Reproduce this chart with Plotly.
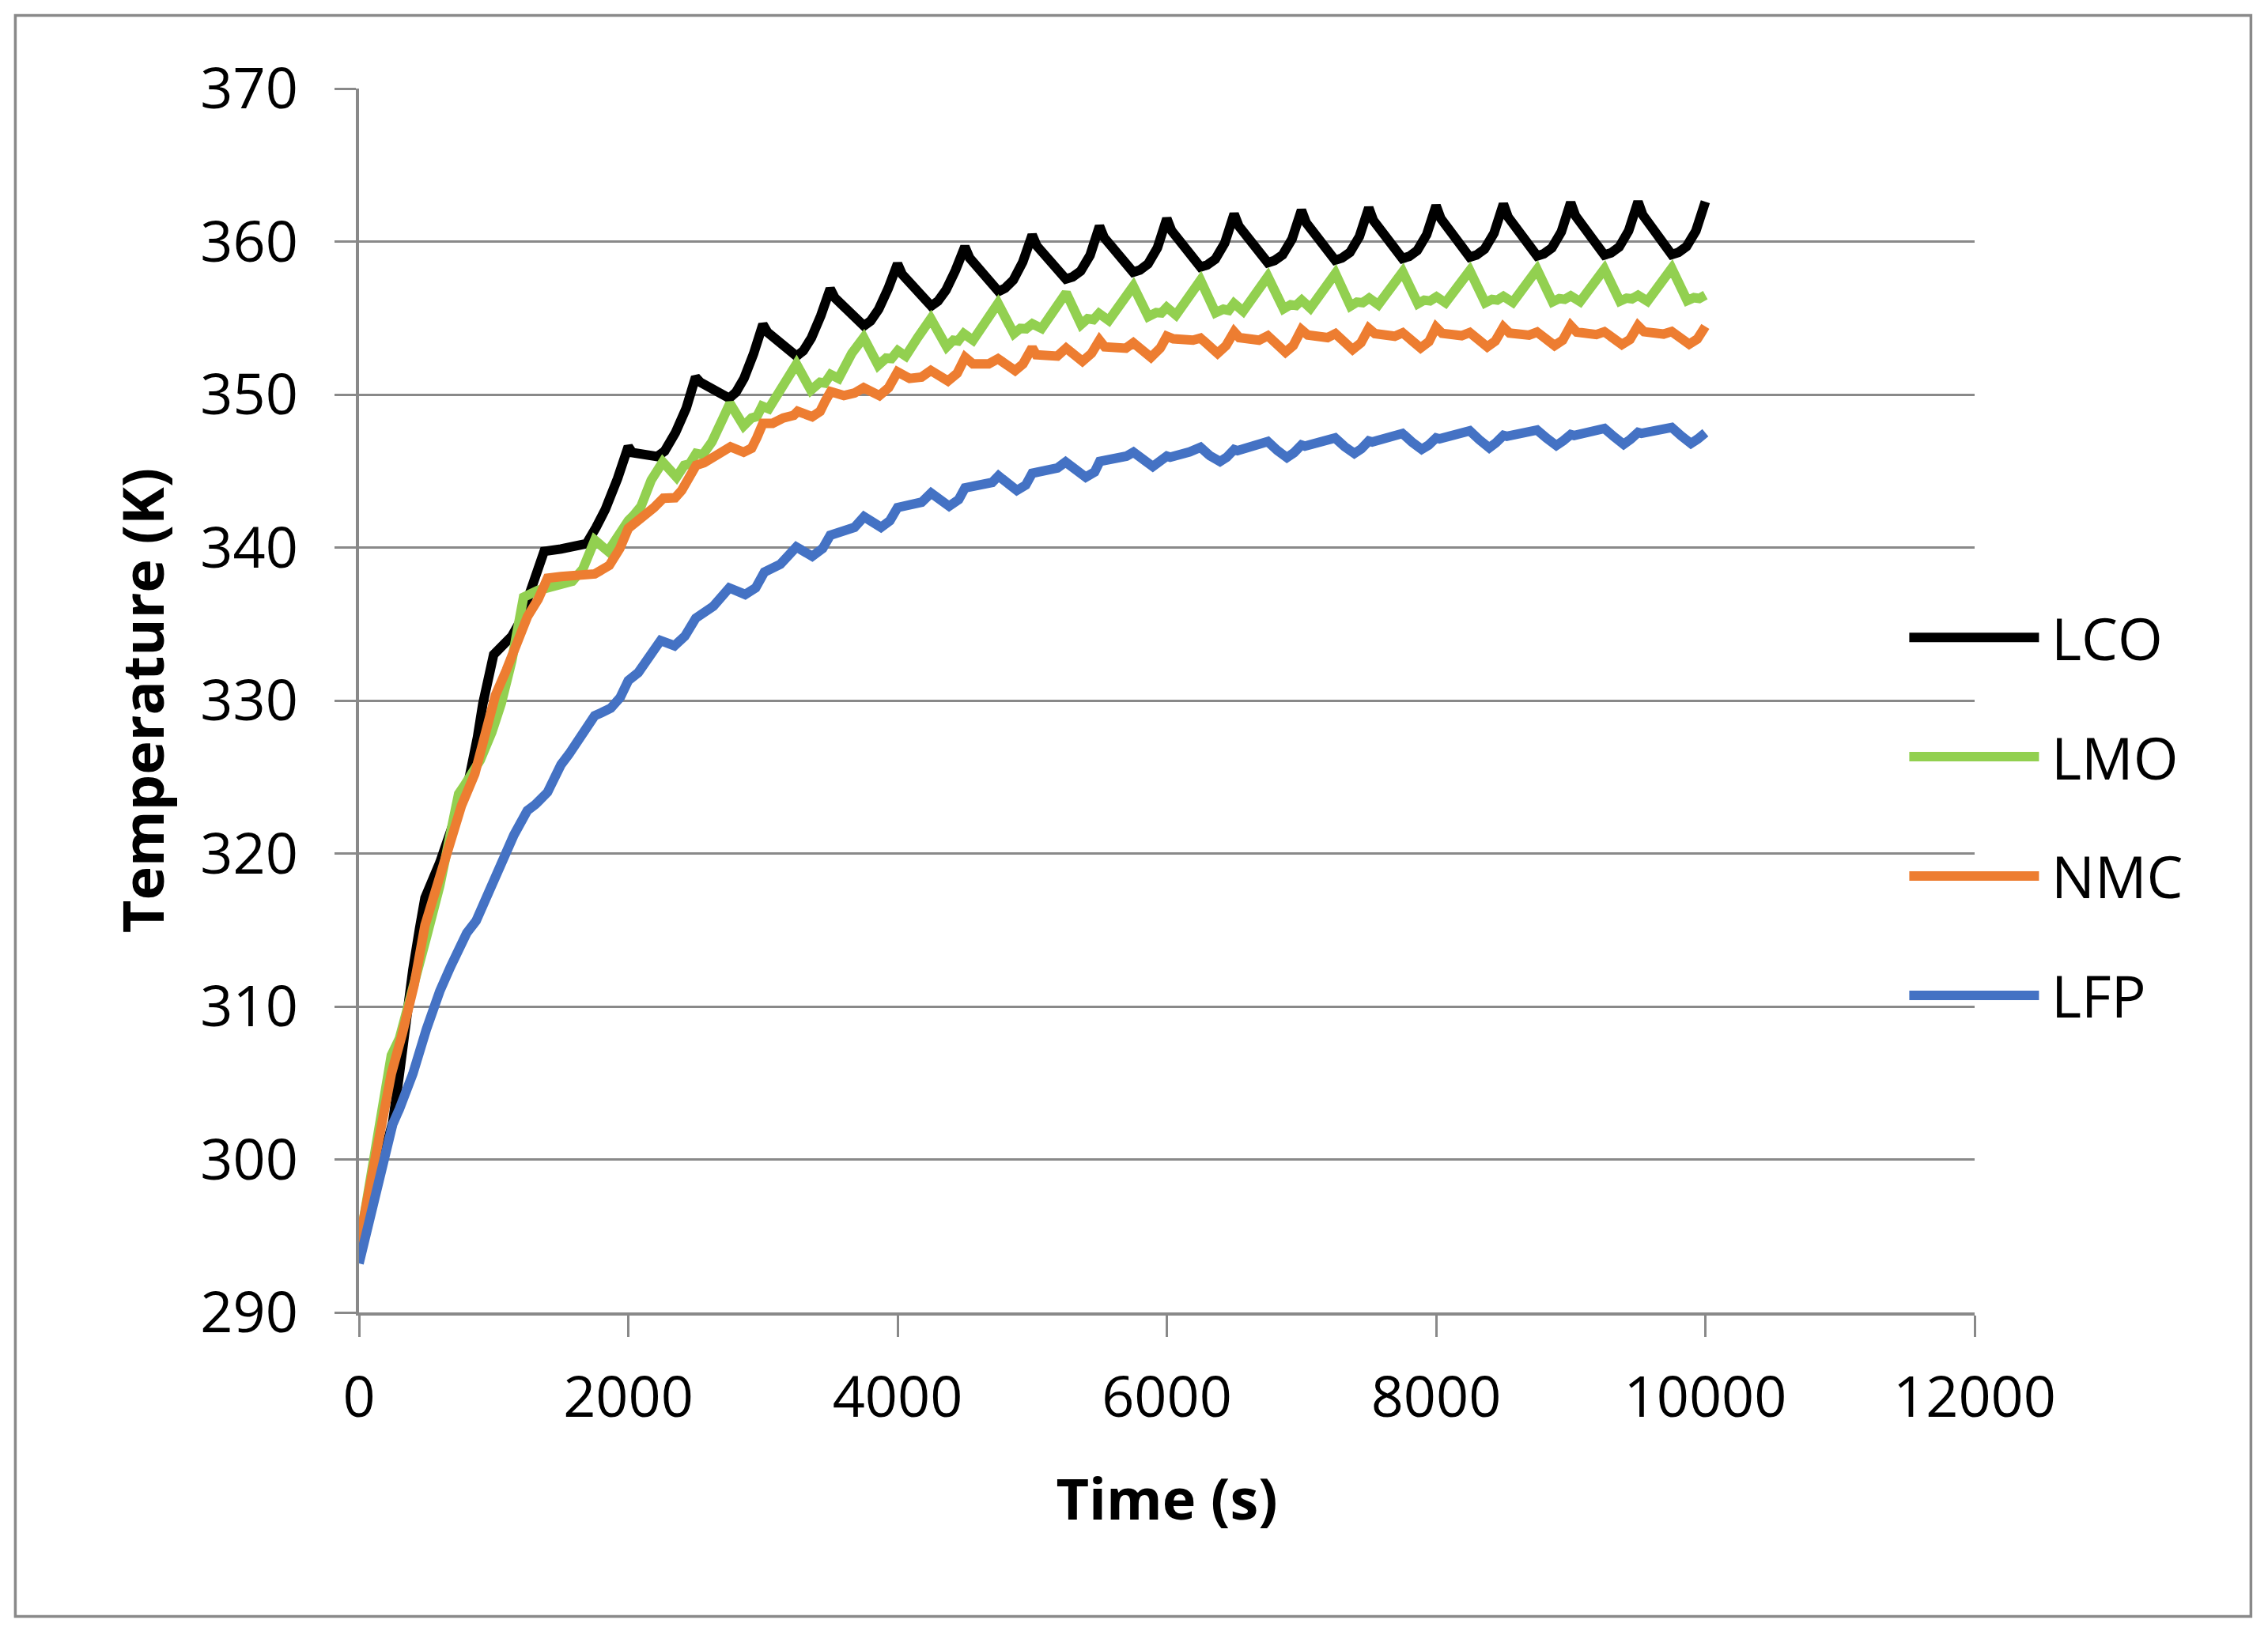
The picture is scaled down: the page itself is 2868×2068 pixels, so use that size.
import plotly.graph_objects as go

# ---------------- data ----------------
series_names = ["LCO", "LMO", "NMC", "LFP"]
series_colors = ["#000000", "#92D050", "#ED7D31", "#4472C4"]

lco_time = [0, 125, 250, 300, 350, 400, 450, 490, 600, 700, 780, 820, 880, 920, 1000,
            1020, 1135, 1195, 1270, 1330, 1375, 1500, 1600, 1690, 1760, 1830, 1920, 2000,
            2030, 2120, 2215, 2270, 2350, 2430, 2500,
            2535, 2640, 2725, 2750, 2800, 2860, 2930, 2970, 3000,
            3035, 3140, 3225, 3250, 3300, 3360, 3430, 3470, 3500,
            3535, 3640, 3725, 3750, 3800, 3860, 3930, 3970, 4000,
            4035, 4140, 4225, 4250, 4300, 4360, 4430, 4470, 4500,
            4535, 4640, 4725, 4750, 4800, 4860, 4930, 4970, 5000,
            5035, 5140, 5225, 5250, 5300, 5360, 5430, 5470, 5500,
            5535, 5640, 5725, 5750, 5800, 5860, 5930, 5970, 6000,
            6035, 6140, 6225, 6250, 6300, 6360, 6430, 6470, 6500,
            6535, 6640, 6725, 6750, 6800, 6860, 6930, 6970, 7000,
            7035, 7140, 7225, 7250, 7300, 7360, 7430, 7470, 7500,
            7535, 7640, 7725, 7750, 7800, 7860, 7930, 7970, 8000,
            8035, 8140, 8225, 8250, 8300, 8360, 8430, 8470, 8500,
            8535, 8640, 8725, 8750, 8800, 8860, 8930, 8970, 9000,
            9035, 9140, 9225, 9250, 9300, 9360, 9430, 9470, 9500,
            9535, 9640, 9725, 9750, 9800, 9860, 9930, 9970, 10000]
lco_temp = [294.3, 298.3, 302.4, 305.6, 309.4, 312.4, 315.1, 317.1, 319.4, 322.0, 324.0, 325.0, 327.6, 329.8, 333.0,
            333.15, 334.2, 335.15, 337.0, 338.5, 339.75, 339.9, 340.05, 340.25, 341.3, 342.5, 344.5, 346.6,
            346.2, 346.1, 345.95, 346.3, 347.5, 349.1, 351.14,
            350.80, 350.28, 349.82, 349.76, 350.15, 351.06, 352.65, 353.62, 354.58,
            354.06, 353.30, 352.59, 352.51, 352.86, 353.70, 355.15, 356.03, 356.91,
            356.31, 355.41, 354.59, 354.49, 354.81, 355.58, 356.92, 357.73, 358.54,
            357.85, 356.84, 355.90, 355.79, 356.10, 356.83, 358.11, 358.89, 359.66,
            358.93, 357.85, 356.86, 356.74, 356.96, 357.48, 358.66, 359.58, 360.43,
            359.71, 358.64, 357.67, 357.55, 357.69, 358.07, 359.10, 360.14, 361.0,
            360.25, 359.14, 358.12, 358.0, 358.14, 358.53, 359.58, 360.63, 361.5,
            360.71, 359.53, 358.46, 358.33, 358.47, 358.85, 359.89, 360.93, 361.8,
            361.01, 359.83, 358.75, 358.62, 358.76, 359.13, 360.16, 361.19, 362.05,
            361.23, 360.02, 358.91, 358.78, 358.92, 359.29, 360.32, 361.35, 362.2,
            361.37, 360.15, 359.02, 358.89, 359.03, 359.41, 360.45, 361.49, 362.35,
            361.51, 360.26, 359.11, 358.98, 359.12, 359.50, 360.54, 361.58, 362.45,
            361.60, 360.35, 359.20, 359.06, 359.20, 359.58, 360.63, 361.68, 362.55,
            361.69, 360.42, 359.26, 359.12, 359.26, 359.64, 360.69, 361.73, 362.6,
            361.74, 360.46, 359.29, 359.15, 359.29, 359.67, 360.70, 361.74, 362.6]

lmo_time = [0, 240, 300, 400, 500, 600, 650, 700, 740, 782, 840, 900, 987, 1056, 1134, 1183, 1222,
            1330, 1450, 1584, 1663, 1751, 1850, 1900, 1950, 2000, 2040, 2095, 2170, 2256,
            2358, 2416, 2455, 2504, 2553, 2622, 2700, 2755,
            2857, 2916, 2955, 2994, 3043, 3151, 3249,
            3356, 3424, 3460, 3503, 3562, 3660, 3748,
            3856, 3915, 3955, 4002, 4061, 4149, 4247,
            4365, 4414, 4450, 4492, 4561, 4659, 4746,
            4864, 4912, 4955, 5001, 5070, 5167, 5252,
            5363, 5412, 5455, 5496, 5569, 5657, 5751,
            5862, 5921, 5960, 5999, 6068, 6166, 6250,
            6362, 6420, 6460, 6499, 6567, 6655, 6750,
            6867, 6920, 6960, 7002, 7066, 7164, 7252,
            7364, 7412, 7455, 7503, 7571, 7664, 7752,
            7865, 7912, 7955, 8003, 8070, 8165, 8250,
            8365, 8415, 8455, 8500, 8570, 8665, 8750,
            8865, 8915, 8955, 9000, 9070, 9165, 9250,
            9365, 9415, 9455, 9500, 9570, 9665, 9750,
            9865, 9915, 9955, 10000]
lmo_temp = [294.3, 306.8, 307.9, 311.0, 314.5, 317.9, 320.0, 322.6, 323.9, 324.44, 325.17, 326.1, 327.94, 329.8, 332.56, 334.6, 336.75,
            337.2, 337.5, 337.8, 338.6, 340.48, 339.75, 340.45, 341.0, 341.75, 342.1, 342.7, 344.4, 345.59,
            344.6, 345.37, 345.46, 346.15, 346.06, 346.92, 348.38, 349.42,
            347.95, 348.47, 348.56, 349.24, 349.07, 350.62, 352.0,
            350.28, 350.8, 350.75, 351.31, 351.05, 352.69, 353.72,
            351.91, 352.38, 352.35, 352.86, 352.51, 353.72, 354.96,
            353.12, 353.55, 353.5, 353.98, 353.55, 354.75, 355.96,
            353.98, 354.32, 354.3, 354.62, 354.32, 355.44, 356.65,
            354.58, 354.96, 354.9, 355.30, 354.84, 355.96, 357.08,
            355.1, 355.36, 355.33, 355.70, 355.19, 356.48, 357.47,
            355.35, 355.58, 355.5, 355.96, 355.44, 356.56, 357.71,
            355.6, 355.87, 355.82, 356.17, 355.65, 356.82, 357.92,
            355.78, 356.04, 356.0, 356.30, 355.87, 356.91, 358.02,
            355.94, 356.17, 356.12, 356.39, 356.0, 357.0, 358.1,
            356.0, 356.22, 356.17, 356.42, 356.03, 357.05, 358.17,
            356.06, 356.27, 356.22, 356.45, 356.07, 357.1, 358.2,
            356.1, 356.3, 356.25, 356.48, 356.1, 357.13, 358.25,
            356.14, 356.33, 356.28, 356.5]

nmc_time = [0, 240, 321, 410, 490, 600, 700, 760, 860, 940, 990, 1013, 1095, 1173, 1252, 1330, 1400,
            1500, 1620, 1751, 1859, 1937, 2000, 2113, 2191, 2260, 2348, 2397, 2456, 2504,
            2563, 2661, 2759, 2857, 2916, 2955, 3000,
            3072, 3151, 3229, 3258, 3366, 3425, 3464, 3503,
            3601, 3680, 3748, 3865, 3934, 4000,
            4090, 4178, 4247, 4374, 4443, 4502,
            4560, 4677, 4746, 4873, 4932, 5000,
            5030, 5187, 5252, 5373, 5441, 5500,
            5539, 5696, 5751, 5882, 5951, 6000,
            6048, 6195, 6250, 6377, 6440, 6500,
            6538, 6685, 6750, 6881, 6939, 7000,
            7047, 7194, 7252, 7380, 7442, 7500,
            7546, 7693, 7752, 7885, 7947, 8000,
            8045, 8190, 8250, 8380, 8440, 8500,
            8545, 8690, 8750, 8880, 8940, 9000,
            9045, 9190, 9250, 9380, 9440, 9500,
            9545, 9690, 9750, 9880, 9940, 10000]
nmc_temp = [294.5, 305.6, 308.2, 311.43, 315.3, 318.5, 321.6, 323.1, 325.2, 327.9, 329.9, 330.34, 332.0, 333.85, 335.5, 336.61, 338.0,
            338.1, 338.15, 338.27, 338.83, 339.93, 341.25, 342.01, 342.61, 343.22, 343.25, 343.73, 344.6, 345.37,
            345.54, 346.06, 346.58, 346.23, 346.49, 347.18, 348.12,
            348.12, 348.47, 348.64, 348.90, 348.55, 348.90, 349.59, 350.19,
            349.93, 350.10, 350.45, 349.93, 350.45, 351.48,
            351.05, 351.14, 351.57, 350.88, 351.39, 352.43,
            352.0, 352.0, 352.34, 351.57, 352.0, 353.07,
            352.6, 352.51, 353.03, 352.17, 352.69, 353.55,
            353.12, 353.03, 353.38, 352.43, 353.03, 353.81,
            353.64, 353.55, 353.69, 352.69, 353.20, 354.10,
            353.72, 353.55, 353.84, 352.77, 353.20, 354.24,
            353.89, 353.72, 353.98, 352.94, 353.38, 354.32,
            353.98, 353.81, 354.03, 353.05, 353.46, 354.4,
            354.0, 353.85, 354.05, 353.12, 353.5, 354.41,
            354.02, 353.88, 354.08, 353.2, 353.55, 354.5,
            354.08, 353.92, 354.1, 353.27, 353.6, 354.5,
            354.1, 353.95, 354.12, 353.29, 353.62, 354.45]

lfp_time = [0, 250, 300, 400, 500, 530, 600, 680, 750, 800, 870, 930, 1000,
            1050, 1150, 1250, 1310, 1400, 1500, 1560, 1650, 1750, 1800, 1870, 1940, 2000,
            2074, 2152, 2240, 2343, 2420, 2501,
            2632, 2750, 2868, 2946, 3011,
            3130, 3248, 3366, 3444, 3500,
            3680, 3751, 3877, 3943, 4000,
            4179, 4249, 4383, 4454, 4501,
            4703, 4750, 4886, 4952, 5000,
            5188, 5248, 5398, 5464, 5502,
            5700, 5752, 5896, 6000,
            6025, 6170, 6250, 6320, 6395, 6445, 6500,
            6525, 6670, 6750, 6820, 6892, 6945, 7000,
            7025, 7170, 7250, 7320, 7393, 7445, 7500,
            7525, 7670, 7750, 7820, 7893, 7945, 8000,
            8025, 8170, 8250, 8320, 8395, 8445, 8500,
            8525, 8670, 8750, 8820, 8893, 8945, 9000,
            9025, 9170, 9250, 9320, 9393, 9445, 9500,
            9525, 9670, 9750, 9820, 9893, 9945, 10000]
lfp_temp = [293.2, 302.3, 303.3, 305.6, 308.5, 309.3, 311.0, 312.6, 314.1, 314.8, 315.6, 316.8, 318.5,
            319.5, 321.2, 322.8, 323.2, 324.0, 325.8, 326.5, 327.6, 329.0, 329.2, 329.5, 330.2, 331.3,
            331.82, 332.83, 333.92, 333.58, 334.2, 335.38,
            336.16, 337.36, 336.93, 337.36, 338.39,
            338.91, 340.03, 339.43, 339.94, 340.80,
            341.32, 342.01, 341.32, 341.75, 342.61,
            342.96, 343.56, 342.70, 343.13, 343.90,
            344.25, 344.68, 343.73, 344.08, 344.85,
            345.2, 345.59, 344.6, 344.94, 345.63,
            345.97, 346.23, 345.29, 345.97,
            345.9, 346.25, 346.55, 346.0, 345.62, 345.9, 346.4,
            346.33, 346.68, 346.92, 346.35, 345.88, 346.2, 346.7,
            346.63, 346.95, 347.16, 346.6, 346.15, 346.45, 346.96,
            346.9, 347.2, 347.45, 346.9, 346.42, 346.7, 347.16,
            347.1, 347.38, 347.63, 347.05, 346.52, 346.85, 347.33,
            347.27, 347.48, 347.68, 347.15, 346.67, 346.98, 347.38,
            347.32, 347.55, 347.78, 347.25, 346.75, 347.08, 347.52,
            347.46, 347.62, 347.85, 347.3, 346.8, 347.1, 347.5]

x_ticks = [0, 2000, 4000, 6000, 8000, 10000, 12000]
y_ticks = [290, 300, 310, 320, 330, 340, 350, 360, 370]

x_title = "Time (s)"
y_title = "Temperature (K)"

# ---------------- figure ----------------
# The page body has an 8 px margin, so the figure is 16 px smaller than the
# window and all page-pixel positions are shifted by 8 px.
OFF = 8
W, H = 2868 - 2 * OFF, 2068 - 2 * OFF
ML, MT = 453.6 - OFF, 111.5 - OFF
PW, PH = 2043.0, 1548.8
MR = W - ML - PW
MB = H - MT - PH

def px_x(px):
    """page pixel x -> paper coordinate"""
    return (px - OFF - ML) / PW

def px_y(py):
    """page pixel y -> paper coordinate"""
    return (MT + PH - (py - OFF)) / PH

GRAY = "#898989"
FONT = "Open Sans, sans-serif"
LW = 12

all_times = [lco_time, lmo_time, nmc_time, lfp_time]
all_temps = [lco_temp, lmo_temp, nmc_temp, lfp_temp]

fig = go.Figure()
for name, color, tt, yy in zip(series_names, series_colors, all_times, all_temps):
    fig.add_trace(go.Scatter(x=tt, y=yy, mode="lines", name=name,
                             line=dict(color=color, width=LW),
                             showlegend=False))

# manual legend (long sample lines like the original)
legend_rows_y = [806, 957, 1108, 1259]
shapes = []
annotations = []
for name, color, py in zip(series_names, series_colors, legend_rows_y):
    shapes.append(dict(type="line", xref="paper", yref="paper",
                       x0=px_x(2414), x1=px_x(2578), y0=px_y(py), y1=px_y(py),
                       line=dict(color=color, width=LW)))
    annotations.append(dict(xref="paper", yref="paper", x=px_x(2592), y=px_y(py),
                            text=name, showarrow=False, xanchor="left", yanchor="middle",
                            font=dict(family=FONT, size=73, color="#000000")))

# outer chart border
shapes.append(dict(type="rect", xref="paper", yref="paper",
                   x0=px_x(19), x1=px_x(2846), y0=px_y(2045), y1=px_y(19),
                   line=dict(color=GRAY, width=3.5), layer="below"))

fig.update_layout(
    width=W, height=H,
    margin=dict(l=ML, r=MR, t=MT, b=MB, pad=0),
    paper_bgcolor="white", plot_bgcolor="white",
    font=dict(family=FONT, size=72, color="#000000"),
    shapes=shapes, annotations=annotations,
    showlegend=False,
    xaxis=dict(range=[0, 12000], tickmode="array", tickvals=x_ticks,
               ticktext=[str(v) for v in x_ticks],
               showgrid=False, zeroline=False,
               showline=True, linecolor=GRAY, linewidth=3.5,
               ticks="outside", ticklen=27, tickwidth=2.5, tickcolor=GRAY,
               ticklabelstandoff=15,
               tickfont=dict(family=FONT, size=72, color="#000000"),
               title=dict(text=x_title, standoff=60,
                          font=dict(family=FONT, size=72, color="#000000", weight="bold"))),
    yaxis=dict(range=[290, 370], tickmode="array", tickvals=y_ticks,
               ticktext=[str(v) for v in y_ticks],
               showgrid=True, gridcolor=GRAY, gridwidth=3, zeroline=False,
               showline=True, linecolor=GRAY, linewidth=3.5,
               ticks="outside", ticklen=27, tickwidth=3, tickcolor=GRAY,
               ticklabelstandoff=32,
               tickfont=dict(family=FONT, size=72, color="#000000"),
               title=dict(text=y_title, standoff=23,
                          font=dict(family=FONT, size=72, color="#000000", weight="bold"))),
)

fig.write_html("out.html", config={"displayModeBar": False})
